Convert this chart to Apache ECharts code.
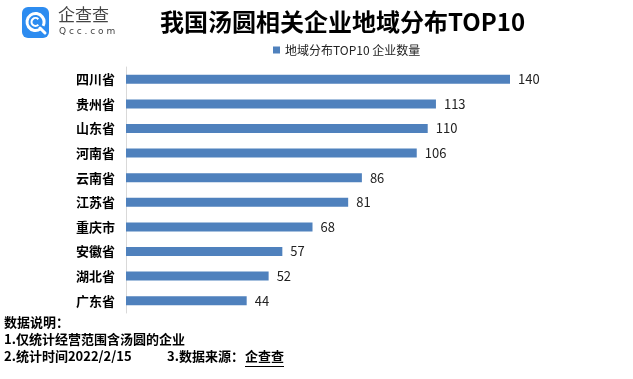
<!DOCTYPE html>
<html>
<head>
<meta charset="utf-8">
<script src="https://cdn.jsdelivr.net/npm/echarts@6/dist/echarts.min.js"></script>
<style>
html,body{margin:0;padding:0;background:#fff;}
#c{width:633px;height:379px;}
</style>
</head>
<body>
<div id="c"></div>
<script>
var categories = ['四川省','贵州省','山东省','河南省','云南省','江苏省','重庆市','安徽省','湖北省','广东省'];
var values = [140,113,110,106,86,81,68,57,52,44];
var seriesName = '地域分布TOP10 企业数量';
var titleText = '我国汤圆相关企业地域分布TOP10';
var notes = ['数据说明：','1.仅统计经营范围含汤圆的企业','2.统计时间2022/2/15','3.数据来源：','企查查'];

var FF = '"Noto Sans CJK SC","Microsoft YaHei",sans-serif';
var chart = echarts.init(document.getElementById('c'));
chart.setOption({
  backgroundColor:'#fff',
  animation:false,
  title:{
    text:titleText, left:155, top:5,
    textStyle:{fontFamily:FF, fontSize:24, fontWeight:'bold', color:'#000'}
  },
  legend:{
    left:268, top:39, itemWidth:7, itemHeight:7, itemGap:5,
    icon:'rect',
    textStyle:{fontFamily:FF, fontSize:12, color:'#222'},
    data:[seriesName]
  },
  grid:{left:126, right:123, top:67, bottom:66},
  xAxis:{type:'value', min:0, max:140, show:false},
  yAxis:{
    type:'category', data:categories, inverse:true,
    axisLine:{show:true, lineStyle:{color:'#d9d9d9', width:1}},
    axisTick:{show:false},
    axisLabel:{fontFamily:FF, fontSize:13, fontWeight:'bold', color:'#000', margin:11}
  },
  series:[{
    name:seriesName, type:'bar', data:values, barWidth:9,
    itemStyle:{color:'#4f81bd'},
    label:{show:true, position:'right', distance:8, fontFamily:FF, fontSize:13, color:'#222'}
  }],
  graphic:[
    {type:'rect', shape:{x:22, y:7, width:27, height:31, r:6}, style:{fill:'#2d8cf0'}},
    {type:'arc', shape:{cx:35.5, cy:22, r:8.5, startAngle:Math.PI*0.3, endAngle:Math.PI*2.15}, style:{stroke:'#fff', lineWidth:3, fill:null}},
    {type:'arc', shape:{cx:35.5, cy:22, r:4, startAngle:Math.PI*0.25, endAngle:Math.PI*1.75}, style:{stroke:'#fff', lineWidth:2, fill:null}},
    {type:'line', shape:{x1:40, y1:28, x2:45, y2:33}, style:{stroke:'#fff', lineWidth:3, lineCap:'round'}},
    {type:'text', left:58, top:6, style:{text:'企查查', fontFamily:FF, fontSize:17, fill:'#444'}},
    {type:'text', left:59, top:27, style:{text:'Q c c . c o m', fontFamily:'"DejaVu Sans",sans-serif', fontSize:9, fill:'#444'}},
    {type:'text', left:4, top:316, style:{text:notes[0], fontFamily:FF, fontSize:13, fontWeight:'bold', fill:'#000'}},
    {type:'text', left:4, top:333, style:{text:notes[1], fontFamily:FF, fontSize:13, fontWeight:'bold', fill:'#000'}},
    {type:'text', left:4, top:350, style:{text:notes[2], fontFamily:FF, fontSize:13, fontWeight:'bold', fill:'#000'}},
    {type:'text', left:167, top:350, style:{text:notes[3], fontFamily:FF, fontSize:13, fontWeight:'bold', fill:'#000'}},
    {type:'text', left:245, top:350, style:{text:notes[4], fontFamily:FF, fontSize:13, fontWeight:'bold', fill:'#000'}},
    {type:'line', shape:{x1:245, y1:366.5, x2:284, y2:366.5}, style:{stroke:'#000', lineWidth:1}}
  ]
});
</script>
</body>
</html>
